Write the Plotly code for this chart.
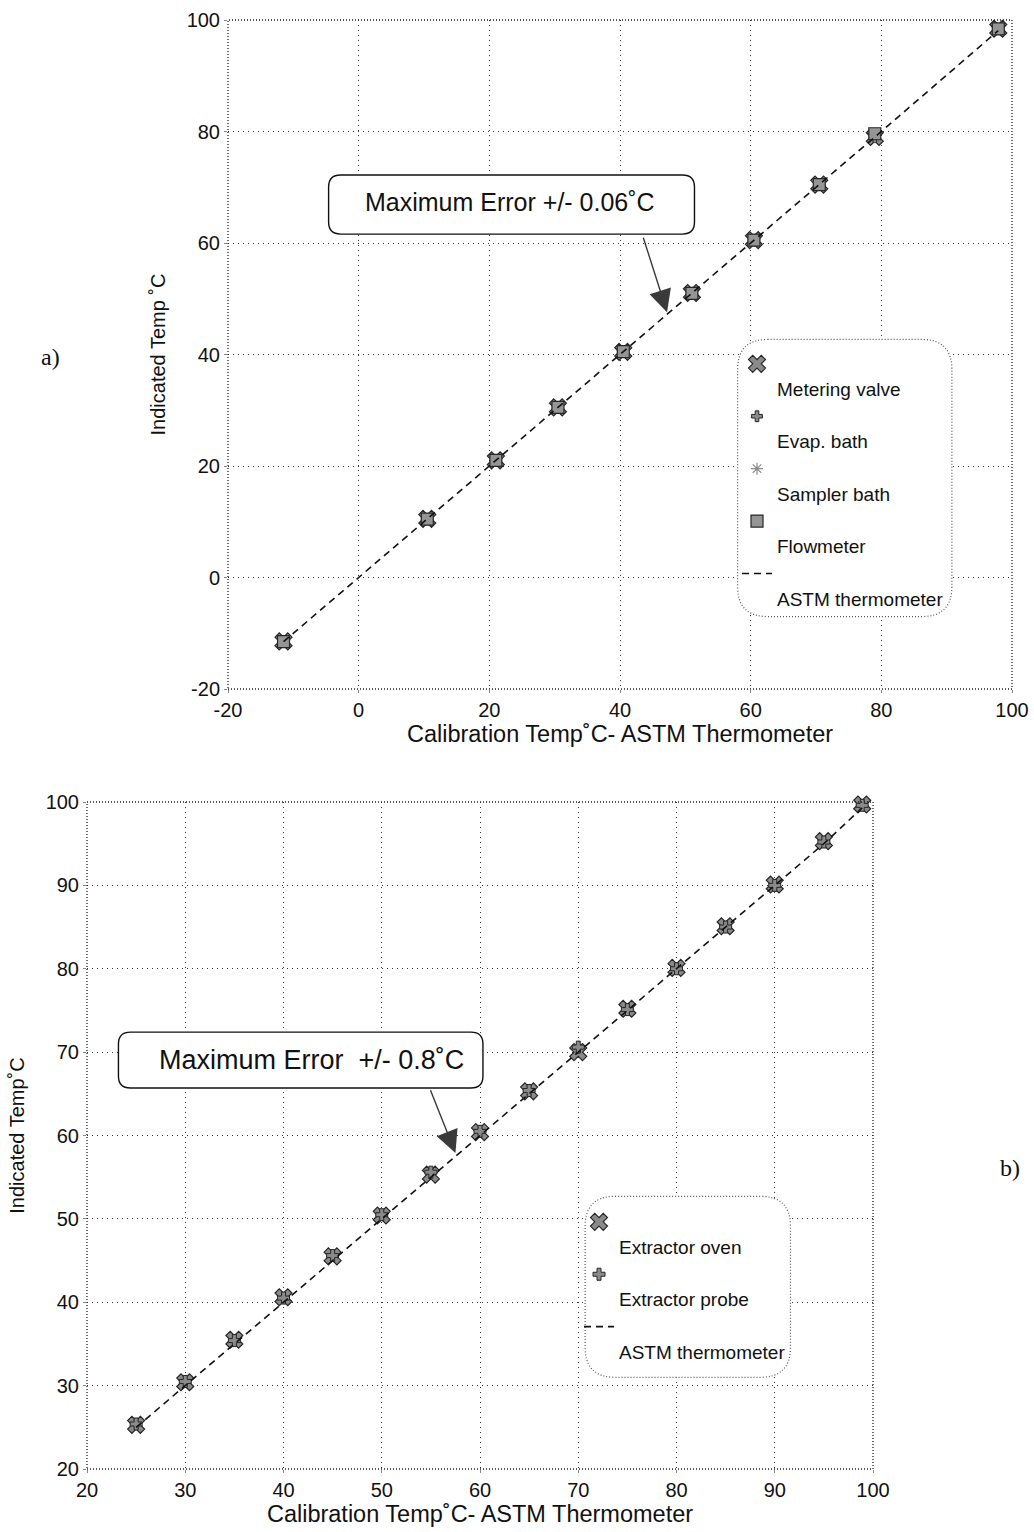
import plotly.graph_objects as go

W, H = 1034, 1532

# ---------------- data: panel a ----------------
a_calib = [-11.5, 10.5, 21.0, 30.5, 40.5, 51.0, 60.5, 70.5, 79.0, 97.9]
a_metering = [-11.46, 10.53, 21.02, 30.51, 40.47, 51.03, 60.52, 70.48, 79.02, 98.43]
a_evap = [-11.52, 10.48, 20.97, 30.54, 40.52, 50.98, 60.47, 70.53, 78.97, 98.37]
a_sampler = [-11.48, 10.51, 21.04, 30.48, 40.49, 51.01, 60.49, 70.51, 79.04, 98.39]
a_flow = [-11.51, 10.47, 21.01, 30.53, 40.51, 50.96, 60.53, 70.46, 79.6, 98.41]
a_astm = [-11.5, 10.5, 21.0, 30.5, 40.5, 51.0, 60.5, 70.5, 79.0, 98.1]

# ---------------- data: panel b ----------------
b_calib = [25, 30, 35, 40, 45, 50, 55, 60, 65, 70, 75, 80, 85, 90, 95, 98.9]
b_oven = [25.3, 30.4, 35.5, 40.6, 45.5, 50.4, 55.3, 60.4, 65.3, 70.0, 75.2, 80.1, 85.1, 90.1, 95.3, 99.7]
b_probe = [25.4, 30.5, 35.4, 40.5, 45.6, 50.5, 55.6, 60.5, 65.4, 70.6, 75.1, 80.0, 85.0, 90.0, 95.2, 99.6]
b_astm = [25, 30, 35, 40, 45, 50, 55, 60, 65, 70, 75, 80, 85, 90, 95, 99.3]

a_tickvals = [-20, 0, 20, 40, 60, 80, 100]
a_ticktext = ["-20", "0", "20", "40", "60", "80", "100"]
b_tickvals = [20, 30, 40, 50, 60, 70, 80, 90, 100]
b_ticktext = ["20", "30", "40", "50", "60", "70", "80", "90", "100"]

x_title = "Calibration Temp˚C- ASTM Thermometer"
y_title_a = "Indicated Temp ˚C"
y_title_b = "Indicated Temp˚C"
note_a = "Maximum Error +/- 0.06˚C"
note_b = "Maximum Error  +/- 0.8˚C"

FONT = "Liberation Sans"
GRAY = "#8a8a8a"
DARK = "#262626"

fig = go.Figure()

def mk(x, y, name, symbol, xa, ya, legend, fill=GRAY, size=14, lw=1.2, lc=DARK):
    return go.Scatter(x=x, y=y, mode="markers", name="<br>" + name,
                      xaxis=xa, yaxis=ya, legend=legend, cliponaxis=False,
                      marker=dict(symbol=symbol, size=size, color=fill,
                                  line=dict(color=lc, width=lw)))

ASTM_DASH = "7px,5px"

# panel a traces
fig.add_trace(mk(a_calib, a_metering, "Metering valve", "x", "x", "y", "legend", size=15))
fig.add_trace(mk(a_calib, a_evap, "Evap. bath", "cross", "x", "y", "legend", size=9, lw=1))
fig.add_trace(mk(a_calib, a_sampler, "Sampler bath", "asterisk-open", "x", "y", "legend", size=10, lw=1.2, lc="#333"))
fig.add_trace(mk(a_calib, a_flow, "Flowmeter", "square", "x", "y", "legend", fill="#959595", size=12, lw=1.2))
fig.add_trace(go.Scatter(x=a_calib, y=a_astm, mode="lines", name="<br>ASTM thermometer",
                         xaxis="x", yaxis="y", legend="legend",
                         line=dict(color="#111", width=1.6, dash=ASTM_DASH)))

# panel b traces
fig.add_trace(mk(b_calib, b_oven, "Extractor oven", "x", "x2", "y2", "legend2", size=15))
fig.add_trace(mk(b_calib, b_probe, "Extractor probe", "cross", "x2", "y2", "legend2", size=10, lw=1))
fig.add_trace(go.Scatter(x=b_calib, y=b_astm, mode="lines", name="<br>ASTM thermometer",
                         xaxis="x2", yaxis="y2", legend="legend2",
                         line=dict(color="#111", width=1.6, dash=ASTM_DASH)))

xa_dom = [228 / W, 1012 / W]
ya_dom = [1 - 689 / H, 1 - 20 / H]
xb_dom = [87 / W, 873 / W]
yb_dom = [1 - 1469 / H, 1 - 802 / H]

axis_common = dict(showgrid=True, gridcolor="#333", griddash="1px,4px", gridwidth=1,
                   zeroline=False, showline=False, ticks="outside", ticklen=3,
                   tickcolor="#888", automargin=False,
                   tickfont=dict(family=FONT, size=20, color="#111"))

fig.update_layout(
    width=W, height=H, margin=dict(l=0, r=0, t=0, b=0, autoexpand=False),
    paper_bgcolor="white", plot_bgcolor="white",
    font=dict(family=FONT, color="#111"),
    xaxis=dict(domain=xa_dom, anchor="y", range=[-20, 100], tickvals=a_tickvals, ticktext=a_ticktext,
               title=dict(text=x_title, font=dict(size=23.5), standoff=4), **axis_common),
    yaxis=dict(domain=ya_dom, anchor="x", range=[-20, 100], tickvals=a_tickvals, ticktext=a_ticktext,
               title=dict(text=y_title_a, font=dict(size=20)), **axis_common),
    xaxis2=dict(domain=xb_dom, anchor="y2", range=[20, 100], tickvals=b_tickvals, ticktext=b_ticktext,
                title=dict(text=x_title, font=dict(size=23.5), standoff=4), **axis_common),
    yaxis2=dict(domain=yb_dom, anchor="x2", range=[20, 100], tickvals=b_tickvals, ticktext=b_ticktext,
                title=dict(text=y_title_b, font=dict(size=20)), **axis_common),
    legend=dict(x=737 / W, y=1 - 345 / H, xanchor="left", yanchor="top",
                bgcolor="rgba(0,0,0,0)", borderwidth=0, valign="top",
                font=dict(family=FONT, size=19), tracegroupgap=0),
    legend2=dict(x=579 / W, y=1 - 1203 / H, xanchor="left", yanchor="top",
                 bgcolor="rgba(0,0,0,0)", borderwidth=0, valign="top",
                 font=dict(family=FONT, size=19), tracegroupgap=0),
    showlegend=True,
)

def rounded(x0, x1, y0, y1, rx, ry):
    # rectangle with rounded corners in data coordinates (y0 bottom, y1 top)
    return (f"M {x0+rx},{y1} L {x1-rx},{y1} Q {x1},{y1} {x1},{y1-ry} "
            f"L {x1},{y0+ry} Q {x1},{y0} {x1-rx},{y0} L {x0+rx},{y0} "
            f"Q {x0},{y0} {x0},{y0+ry} L {x0},{y1-ry} Q {x0},{y1} {x0+rx},{y1} Z")

# pixel scales for corner radii
pxa_x = (xa_dom[1] - xa_dom[0]) * W / 120.0
pxa_y = (ya_dom[1] - ya_dom[0]) * H / 120.0
pxb_x = (xb_dom[1] - xb_dom[0]) * W / 80.0
pxb_y = (yb_dom[1] - yb_dom[0]) * H / 80.0

shapes = []
# plot frames (dotted)
for xr, yr in (("x domain", "y domain"), ("x2 domain", "y2 domain")):
    shapes.append(dict(type="rect", xref=xr, yref=yr, x0=0, x1=1, y0=0, y1=1,
                       line=dict(color="#222", width=1.3, dash="1px,2px"), layer="above"))
# annotation boxes
shapes.append(dict(type="path", xref="x", yref="y",
                   path=rounded(-4.6, 51.4, 61.6, 72.2, 12 / pxa_x, 12 / pxa_y),
                   line=dict(color="#111", width=1.4), fillcolor="white", layer="between"))
shapes.append(dict(type="path", xref="x2", yref="y2",
                   path=rounded(23.2, 60.3, 65.7, 72.4, 12 / pxb_x, 12 / pxb_y),
                   line=dict(color="#111", width=1.4), fillcolor="white", layer="between"))
# legend boxes (dotted, rounded)
shapes.append(dict(type="path", xref="x", yref="y",
                   path=rounded(58.0, 90.8, -7.0, 42.7, 30 / pxa_x, 30 / pxa_y),
                   line=dict(color="#555", width=1.2, dash="1px,2px"), fillcolor="white", layer="between"))
shapes.append(dict(type="path", xref="x2", yref="y2",
                   path=rounded(70.7, 91.6, 31.0, 52.7, 30 / pxb_x, 30 / pxb_y),
                   line=dict(color="#555", width=1.2, dash="1px,2px"), fillcolor="white", layer="between"))
fig.update_layout(shapes=shapes)

annotations = [
    dict(xref="x", yref="y", x=23.2, y=67.3, text=note_a, showarrow=False,
         font=dict(family=FONT, size=25, color="#111")),
    dict(xref="x2", yref="y2", x=42.9, y=69.1, text=note_b, showarrow=False,
         font=dict(family=FONT, size=27, color="#111")),
    dict(xref="x", yref="y", x=47.2, y=47.6, axref="x", ayref="y", ax=43.5, ay=61.2,
         text="", showarrow=True, arrowhead=2, arrowsize=3.2, arrowwidth=1.4, arrowcolor="#3a3a3a"),
    dict(xref="x2", yref="y2", x=57.5, y=57.9, axref="x2", ayref="y2", ax=54.9, ay=65.6,
         text="", showarrow=True, arrowhead=2, arrowsize=3.2, arrowwidth=1.4, arrowcolor="#3a3a3a"),
    dict(xref="paper", yref="paper", x=50 / W, y=1 - 357 / H, text="a)", showarrow=False,
         xanchor="center", yanchor="middle",
         font=dict(family="Liberation Serif", size=24, color="#111")),
    dict(xref="paper", yref="paper", x=1010 / W, y=1 - 1168 / H, text="b)", showarrow=False,
         xanchor="center", yanchor="middle",
         font=dict(family="Liberation Serif", size=24, color="#111")),
]
fig.update_layout(annotations=annotations)

fig.write_html("out.html")
